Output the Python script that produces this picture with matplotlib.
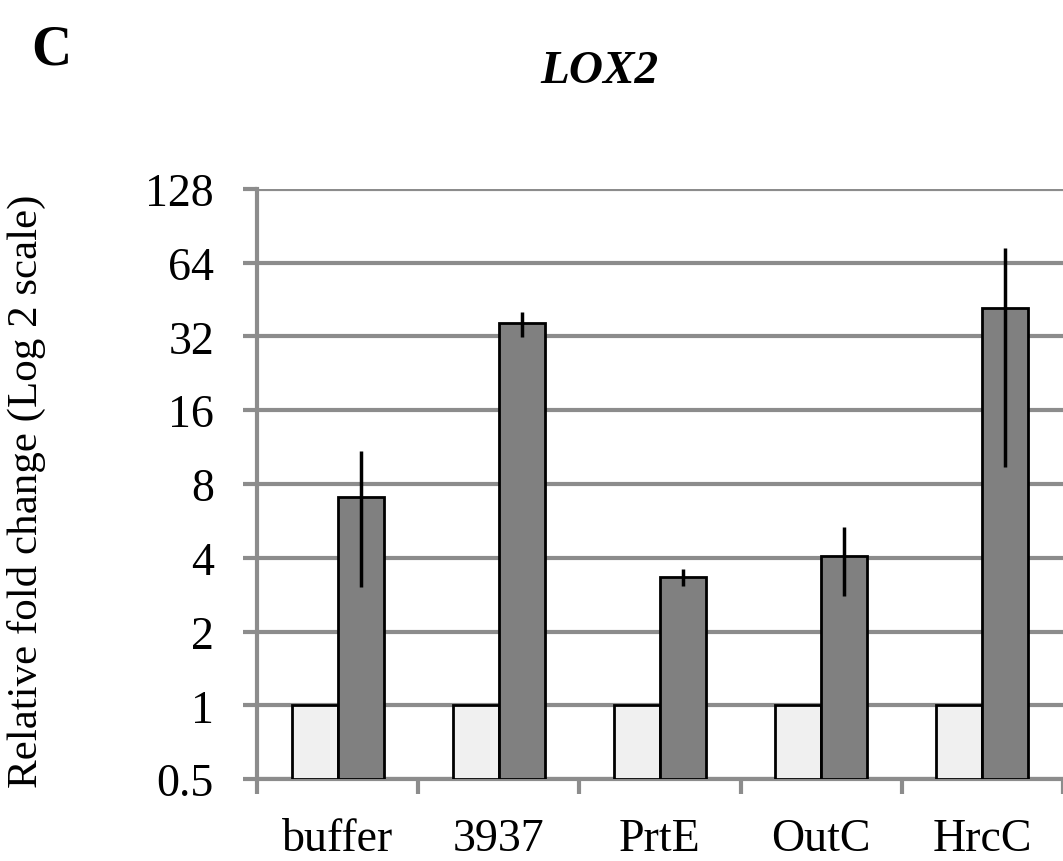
import numpy as np
import matplotlib
matplotlib.use("Agg")
from matplotlib import pyplot as plt

categories = ["buffer", "3937", "PrtE", "OutC", "HrcC"]
control = [1.0, 1.0, 1.0, 1.0, 1.0]
treated = [7.1, 36.3, 3.33, 4.05, 41.7]
err_hi = [10.9, 40.3, 3.59, 5.33, 73.5]
err_lo = [3.03, 31.8, 3.08, 2.78, 9.4]
yticks = [0.5, 1, 2, 4, 8, 16, 32, 64, 128]
ytick_labels = ["0.5", "1", "2", "4", "8", "16", "32", "64", "128"]

plt.rcParams['font.family'] = ['Liberation Serif', 'DejaVu Serif']

fig = plt.figure(figsize=(10.63, 8.62), dpi=100)
ax = fig.add_axes([0.2418, 0.0951, 0.7582, 0.6845])

x = np.arange(len(categories))
w = 0.285
base = 0.5
ax.set_yscale('log', base=2)
ax.bar(x - w / 2, np.array(control) - base, w, bottom=base, color='#f0f0f0',
       edgecolor='black', linewidth=2, zorder=3)
ax.bar(x + w / 2, np.array(treated) - base, w, bottom=base, color='#808080',
       edgecolor='black', linewidth=2, zorder=3)
t = np.array(treated)
yerr = [t - np.array(err_lo), np.array(err_hi) - t]
ax.errorbar(x + w / 2, t, yerr=yerr, fmt='none', ecolor='black',
            elinewidth=2.5, capsize=0, zorder=4)

ax.set_ylim(0.5, 128)
ax.set_xlim(-0.5, len(categories) - 0.5)
ax.set_yticks(yticks)
ax.set_yticklabels(ytick_labels)
ax.yaxis.set_minor_locator(matplotlib.ticker.NullLocator())
ax.set_xticks(x)
ax.set_xticklabels(categories)
ax.set_xticks(np.arange(-0.5, len(categories)), minor=True)
ax.tick_params(axis='x', which='major', length=0, pad=28, labelsize=33)
ax.tick_params(axis='x', which='minor', length=11, width=3, color='#8c8c8c',
               direction='out')
ax.tick_params(axis='y', which='major', length=10, width=3, color='#8c8c8c',
               labelsize=33, pad=21)
ax.grid(axis='y', color='#8c8c8c', linewidth=3, zorder=0)
ax.set_axisbelow(True)
for s in ['top', 'right']:
    ax.spines[s].set_visible(False)
for s in ['left', 'bottom']:
    ax.spines[s].set_color('#8c8c8c')
    ax.spines[s].set_linewidth(3)

ax.set_ylabel("Relative fold change (Log 2 scale)", fontsize=31)
ax.yaxis.set_label_coords(-0.262, 0.49)
fig.text(0.5635, 0.9037, "LOX2", fontsize=34, fontweight='bold', style='italic',
         ha='center', va='baseline')
fig.text(0.029, 0.9246, "C", fontsize=40, fontweight='bold', ha='left', va='baseline')

fig.savefig("out.png", dpi=100)
